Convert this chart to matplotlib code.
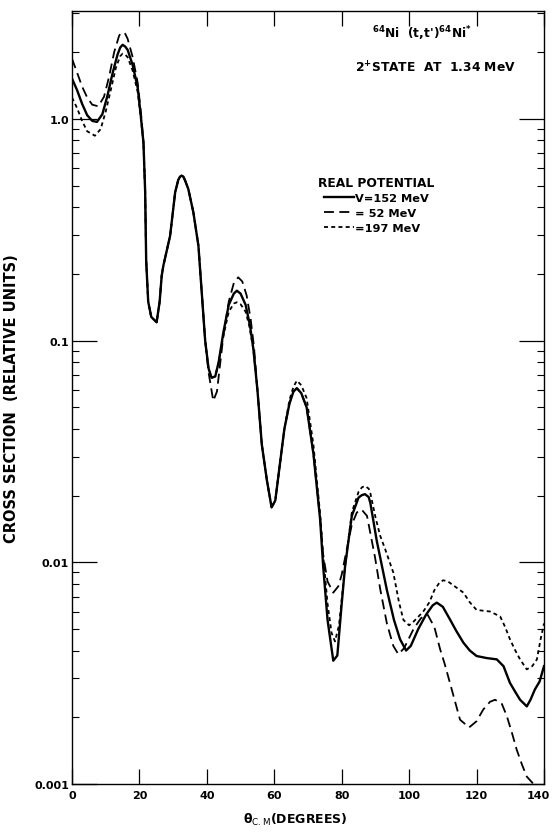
import numpy as np
import matplotlib.pyplot as plt
import matplotlib.transforms as mtransforms
from matplotlib.ticker import FixedLocator, FixedFormatter, NullFormatter

plt.rcParams['font.family'] = ['DejaVu Sans']
plt.rcParams['mathtext.default'] = 'bf'

# Angular distributions, 64Ni(t,t')64Ni* 2+ state (relative units)
theta_152 = [0, 1.5, 3, 4.5, 6, 7.4, 9, 10.5, 12, 13.5, 14.3, 15, 15.8, 16.5, 18, 19.5,
             20.5, 21.2, 21.7, 22.0, 22.6, 23.5, 25.1, 26.0, 26.6, 27.1, 29.1, 30.6, 31.5,
             32.0, 32.5, 33.0, 33.5, 34.5, 36.0, 37.5, 39.5, 40.5, 41.4, 42.5, 43.5, 44.9,
             46.5, 48.0, 48.9, 50.0, 51.5, 52.8, 53.8, 55.0, 56.3, 57.8, 59.2, 60.3, 61.7,
             63.0, 64.5, 65.7, 66.7, 68.0, 69.6, 71.6, 73.6, 74.5, 75.8, 77.5, 78.7, 80.0,
             81.0, 83.0, 85.0, 86.0, 86.9, 88.0, 88.5, 90.4, 93.4, 95.5, 97.3, 99.1, 100.5,
             102.7, 105.0, 107.0, 108.2, 110.0, 112.1, 114.0, 116.1, 118.0, 120.0, 123.0,
             126.0, 128.0, 129.9, 131.5, 132.9, 134.9, 136.0, 137.3, 138.7, 140.0]
sigma_152 = [1.52, 1.35, 1.17, 1.04, 0.98, 0.97, 1.05, 1.27, 1.6, 1.95, 2.1, 2.16, 2.12,
             2.05, 1.75, 1.38, 1.0, 0.78, 0.47, 0.23, 0.15, 0.128, 0.121, 0.15, 0.196,
             0.218, 0.297, 0.467, 0.53, 0.548, 0.555, 0.55, 0.53, 0.483, 0.379, 0.268,
             0.10, 0.075, 0.068, 0.069, 0.08, 0.109, 0.145, 0.163, 0.168, 0.163, 0.145,
             0.117, 0.0915, 0.06, 0.034, 0.0235, 0.0177, 0.019, 0.028, 0.04, 0.052, 0.059,
             0.061, 0.058, 0.05, 0.031, 0.0156, 0.0096, 0.0055, 0.0036, 0.0038, 0.0065,
             0.0096, 0.0162, 0.0196, 0.0201, 0.0203, 0.0197, 0.0185, 0.0125, 0.0075,
             0.0055, 0.0045, 0.0040, 0.0042, 0.0050, 0.0058, 0.0064, 0.00658, 0.0063,
             0.00553, 0.0049, 0.00434, 0.0040, 0.00378, 0.0037, 0.00365, 0.0034, 0.00286,
             0.0026, 0.0024, 0.00224, 0.0024, 0.00267, 0.0029, 0.0034]

theta_52 = [0, 1.5, 3, 4.5, 6, 7.8, 9.5, 11, 12.5, 14, 14.6, 15.2, 15.8, 16.5, 18, 19.5,
            20.5, 21.2, 21.7, 22.0, 22.6, 23.5, 25.1, 26.0, 26.6, 27.1, 29.1, 30.6, 31.5,
            32.0, 32.5, 33.0, 33.5, 34.5, 36.0, 37.5, 39.5, 40.5, 41.9, 43.0, 44.0, 44.9,
            46.5, 48.0, 49.3, 50.5, 51.8, 53.0, 54.0, 55.0, 56.3, 57.8, 59.2, 60.3, 61.7,
            63.0, 64.5, 65.7, 66.7, 68.0, 69.6, 71.6, 73.6, 74.5, 75.8, 77.5, 79.0, 80.0,
            81.0, 83.0, 84.5, 85.9, 87.5, 89.9, 91.4, 93.4, 95.3, 96.8, 98.5, 101.3, 103.5,
            105.5, 107.5, 109.2, 110.5, 112.1, 115.1, 117.8, 120.0, 122.0, 124.0, 125.5,
            127.5, 129.0, 130.5, 131.9, 133.5, 134.9, 136.9, 138.0]
sigma_52 = [1.87, 1.62, 1.40, 1.25, 1.16, 1.14, 1.26, 1.55, 2.0, 2.38, 2.44, 2.46, 2.42,
            2.3, 1.9, 1.45, 1.05, 0.78, 0.47, 0.23, 0.15, 0.128, 0.121, 0.15, 0.196,
            0.218, 0.297, 0.467, 0.53, 0.548, 0.555, 0.55, 0.53, 0.483, 0.379, 0.268,
            0.10, 0.072, 0.0535, 0.059, 0.08, 0.105, 0.15, 0.182, 0.193, 0.185, 0.16,
            0.125, 0.093, 0.06, 0.034, 0.0235, 0.0177, 0.019, 0.028, 0.04, 0.052, 0.059,
            0.061, 0.058, 0.05, 0.031, 0.0158, 0.0108, 0.0082, 0.0073, 0.0078, 0.0088,
            0.0105, 0.0148, 0.0168, 0.0173, 0.0162, 0.0105, 0.0076, 0.0053, 0.0042,
            0.00385, 0.0041, 0.0050, 0.0056, 0.0058, 0.0051, 0.00405, 0.0035, 0.00286,
            0.00195, 0.0018, 0.00192, 0.00217, 0.00235, 0.0024, 0.0023, 0.00202, 0.0017,
            0.00143, 0.00122, 0.00108, 0.00100, 0.00094]

theta_197 = [0, 1.5, 3, 4.5, 6.8, 8.5, 10, 11.5, 13, 14.3, 15, 15.8, 16.5, 18, 19.5,
             20.5, 21.2, 21.7, 22.0, 22.6, 23.5, 25.1, 26.0, 26.6, 27.1, 29.1, 30.6, 31.5,
             32.0, 32.5, 33.0, 33.5, 34.5, 36.0, 37.5, 39.5, 40.5, 41.4, 42.5, 43.5, 44.9,
             46.5, 48.0, 48.9, 50.0, 51.5, 52.5, 53.8, 55.0, 56.3, 57.8, 59.2, 60.3, 61.7,
             63.0, 64.5, 65.7, 66.7, 68.0, 69.6, 71.6, 73.6, 74.5, 75.8, 77.0, 78.0, 79.2,
             80.0, 81.0, 83.0, 85.0, 86.0, 86.9, 88.0, 88.5, 90.0, 91.4, 92.9, 95.3, 97.0,
             98.3, 100.0, 101.3, 102.8, 104.2, 106.0, 107.5, 109.0, 110.1, 111.5, 113.0,
             116.1, 118.0, 120.0, 124.0, 127.0, 128.5, 129.9, 131.5, 132.9, 134.9, 136.5,
             137.9, 139.0, 140.0]
sigma_197 = [1.25, 1.12, 0.98, 0.88, 0.84, 0.9, 1.08, 1.35, 1.7, 1.92, 1.97, 1.95, 1.9,
             1.65, 1.32, 0.98, 0.78, 0.47, 0.23, 0.15, 0.128, 0.121, 0.15, 0.196, 0.218,
             0.297, 0.467, 0.53, 0.548, 0.555, 0.55, 0.53, 0.483, 0.379, 0.268, 0.10,
             0.075, 0.068, 0.069, 0.08, 0.105, 0.135, 0.147, 0.149, 0.146, 0.135, 0.118,
             0.0915, 0.06, 0.034, 0.0235, 0.0177, 0.019, 0.028, 0.04, 0.054, 0.062, 0.066,
             0.063, 0.055, 0.034, 0.0165, 0.0108, 0.0065, 0.0048, 0.0044, 0.0052, 0.0068,
             0.0096, 0.0168, 0.0208, 0.0218, 0.0221, 0.0215, 0.0205, 0.016, 0.0132,
             0.01145, 0.009, 0.0066, 0.0055, 0.0052, 0.0054, 0.0057, 0.0060, 0.0066,
             0.0075, 0.0081, 0.0083, 0.0082, 0.0079, 0.0073, 0.0066, 0.0061, 0.0060,
             0.0057, 0.0051, 0.0045, 0.0040, 0.00365, 0.00329, 0.0034, 0.00365, 0.0045,
             0.0053]

x_ticks = [0, 20, 40, 60, 80, 100, 120, 140]
y_ticks = [0.001, 0.01, 0.1, 1.0]
y_tick_labels = ['0.001', '0.01', '0.1', '1.0']

fig = plt.figure(figsize=(5.53, 8.37), dpi=100)
ax = fig.add_axes([0.1302, 0.0621, 0.8535, 0.9236])

# dashed curves first so the solid one stays on top where they overlap
l52, = ax.plot(theta_52, sigma_52, color='black', lw=1.3, dashes=(5.5, 3.0))
l197, = ax.plot(theta_197, sigma_197, color='black', lw=1.3, dashes=(2.2, 1.8))
l152, = ax.plot(theta_152, sigma_152, color='black', lw=1.7)

ax.set_yscale('log')
ax.set_xlim(0, 140)
ax.set_ylim(0.001, 3.07)

ax.xaxis.set_major_locator(FixedLocator(x_ticks))
ax.yaxis.set_major_locator(FixedLocator(y_ticks))
ax.yaxis.set_major_formatter(FixedFormatter(y_tick_labels))
ax.yaxis.set_minor_formatter(NullFormatter())

ax.tick_params(axis='x', which='major', direction='in', top=True, length=11,
               width=0.9, labelsize=8, pad=4)
ax.tick_params(axis='y', which='major', direction='in', right=True, length=18,
               width=0.9, labelsize=8, pad=2)
ax.tick_params(axis='y', which='minor', direction='in', right=True, length=5, width=0.8)
for lab in ax.get_xticklabels() + ax.get_yticklabels():
    lab.set_fontweight('bold')

# pull the last x label in a little so it stays on the canvas
shift = mtransforms.ScaledTranslation(-4 / 72, 0, fig.dpi_scale_trans)
last = ax.get_xticklabels()[-1]
last.set_transform(last.get_transform() + shift)

for sp in ax.spines.values():
    sp.set_linewidth(1.0)

ax.set_ylabel('CROSS SECTION  (RELATIVE UNITS)', fontsize=10.5, fontweight='bold')
ax.yaxis.set_label_coords(-0.112, 0.5)
ax.set_xlabel(r'$\theta_{\rm C.M}$(DEGREES)', fontsize=9, fontweight='bold')
ax.xaxis.set_label_coords(0.472, -0.035)

ax.text(0.635, 0.972, r"$^{64}$Ni  (t,t')$^{64}$Ni$^{*}$", transform=ax.transAxes,
        fontsize=8.8, fontweight='bold', ha='left', va='center')
ax.text(0.60, 0.927, r"2$^{+}$STATE  AT  1.34 MeV", transform=ax.transAxes,
        fontsize=8.8, fontweight='bold', ha='left', va='center')

leg = ax.legend([l152, l52, l197], ['V=152 MeV', '= 52 MeV', '=197 MeV'],
                title='REAL POTENTIAL', loc='upper left', bbox_to_anchor=(0.505, 0.797),
                frameon=False, fontsize=8.2, handlelength=2.6, handletextpad=0.1,
                labelspacing=0.4, borderpad=0.2)
leg.get_title().set_fontweight('bold')
leg.get_title().set_fontsize(8.8)
for t in leg.get_texts():
    t.set_fontweight('bold')

fig.savefig('out.png', dpi=100)
